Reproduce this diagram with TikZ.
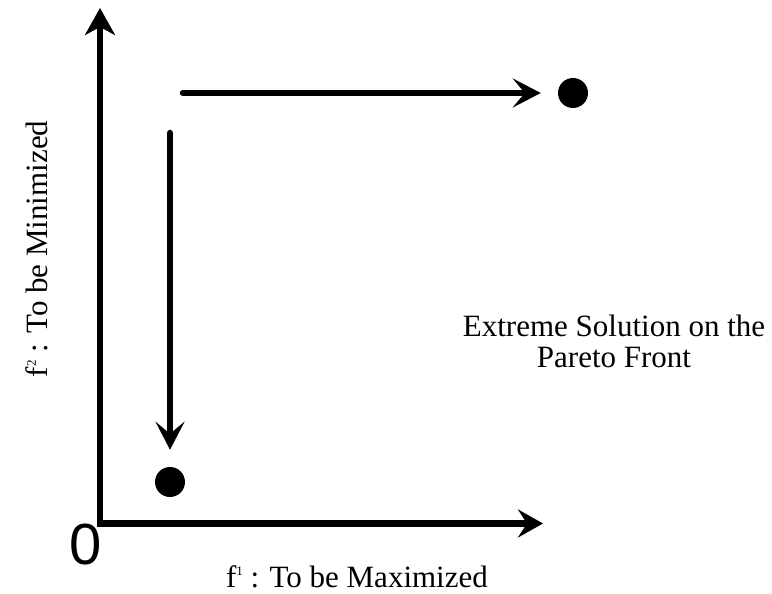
\documentclass[tikz,border=0pt]{standalone}
\usepackage{fontspec}
\setmainfont{Liberation Serif}
\newfontfamily\zerofont{Liberation Sans}
\usetikzlibrary{arrows.meta}

\newcommand\supidx[1]{\raisebox{0.36em}{\fontsize{13}{13}\selectfont #1}}

\begin{document}
\begin{tikzpicture}[x=1pt, y=-1pt, line width=6.5pt,
  head/.style={-{Stealth[length=28pt, width=29pt, inset=12pt]}},
  move/.style={head, line cap=round, shorten >=14pt},
  solution/.style={circle, fill=black, inner sep=0pt, minimum size=30pt},
  txt/.style={font=\fontsize{31}{31}\selectfont, inner sep=0pt}]

  \useasboundingbox (0,0) rectangle (772,594);

  % ---------------- axes ----------------
  \coordinate (origin) at (100,523.5);
  \coordinate (ytip) at (100,8);
  \coordinate (xtip) at (543,523.5);
  \draw[{Stealth[length=27pt, width=30pt, inset=8pt]}-{Stealth[length=25pt, width=28pt, inset=9pt]}]
    (ytip) -- (origin) -- (xtip);
  \node[font=\zerofont\fontsize{58}{58}\selectfont, inner sep=0pt] (zero) at (86,545) {0};

  % axis labels
  \node[txt, anchor=base] (xlabel) at (357,587) {f\supidx{1} : To be Maximized};
  \node[txt, anchor=base, rotate=90] (ylabel) at (47,249) {f\supidx{2} : To be Minimized};

  % ---------------- the two extreme solutions ----------------
  \node[solution] (far) at (573,93) {};
  \node[solution] (low) at (170,482) {};
  \coordinate (farstart) at (183,93);
  \coordinate (lowstart) at (170,133);
  \draw[move] (farstart) -- (far);
  \draw[move] (lowstart) -- (low);

  \node[txt, align=center] (note) at (614,341) {Extreme Solution on the\\Pareto Front};

\end{tikzpicture}
\end{document}
